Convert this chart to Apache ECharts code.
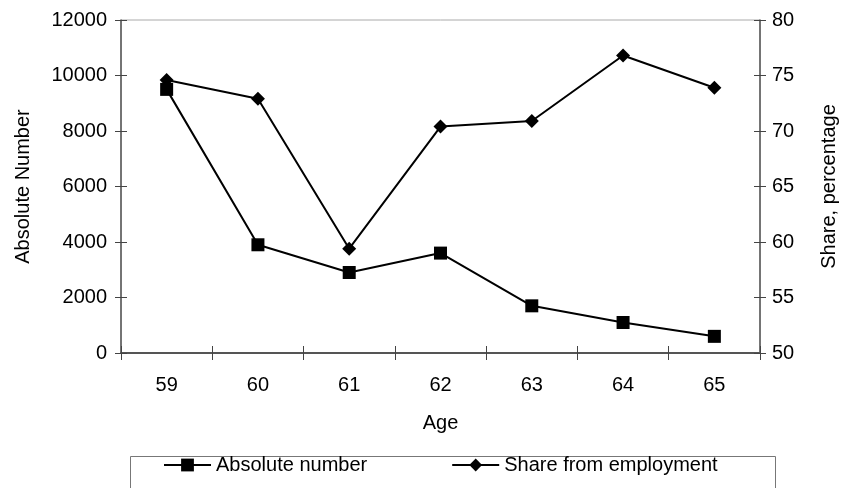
<!DOCTYPE html>
<html>
<head>
<meta charset="utf-8">
<script src="https://cdn.jsdelivr.net/npm/echarts@6/dist/echarts.min.js"></script>
<style>
html,body{margin:0;padding:0;background:#fff;}
#chart{width:847px;height:488px;}
</style>
</head>
<body>
<div id="chart"></div>
<script>
var ages = ['59', '60', '61', '62', '63', '64', '65'];
var absoluteNumber = [9500, 3900, 2900, 3600, 1700, 1100, 600];
var shareFromEmployment = [74.6, 72.9, 59.4, 70.4, 70.9, 76.8, 73.9];
var leftTicks = {min: 0, max: 12000, interval: 2000};
var rightTicks = {min: 50, max: 80, interval: 5};

var FONT = 'Liberation Sans, Arial, sans-serif';
var chart = echarts.init(document.getElementById('chart'), null, {renderer: 'canvas'});

function yAx(pos, t, inside, showLabel) {
  return {
    type: 'value', position: pos, min: t.min, max: t.max, interval: t.interval,
    axisLine: {show: !inside, lineStyle: {color: '#555', width: 1.5}},
    axisTick: {show: true, inside: inside, length: 6, lineStyle: {color: '#444', width: 1}},
    axisLabel: {show: showLabel, color: '#000', fontFamily: FONT, fontSize: 20,
      margin: pos === 'left' ? 14 : 12,
      formatter: function (v) { return String(v); }},
    splitLine: {show: false}
  };
}

var option = {
  animation: false,
  backgroundColor: '#fff',
  grid: {left: 121, right: 76, top: 20, bottom: 135, show: true, borderColor: '#aaa', borderWidth: 1},
  legend: {
    left: 163, top: 455, padding: 0, itemGap: 84, itemWidth: 47, itemHeight: 16,
    textStyle: {color: '#000', fontFamily: FONT, fontSize: 20},
    data: ['Absolute number', 'Share from employment']
  },
  graphic: [{
    type: 'rect', left: 128, top: 454, silent: true,
    shape: {width: 645, height: 60},
    style: {fill: 'none', stroke: '#777', lineWidth: 1}
  }],
  xAxis: [{
    type: 'category', data: ages, position: 'bottom',
    name: 'Age', nameLocation: 'middle', nameGap: 60,
    nameTextStyle: {color: '#000', fontFamily: FONT, fontSize: 20},
    axisLine: {lineStyle: {color: '#555', width: 2}},
    axisTick: {show: true, length: 7, lineStyle: {color: '#444'}},
    axisLabel: {color: '#000', fontFamily: FONT, fontSize: 20, margin: 22},
    splitLine: {show: false}
  }, {
    type: 'category', data: ages, position: 'bottom',
    axisLine: {show: false},
    axisTick: {show: true, inside: true, length: 7, lineStyle: {color: '#444'}},
    axisLabel: {show: false},
    splitLine: {show: false}
  }],
  yAxis: [
    Object.assign(yAx('left', leftTicks, false, true), {
      name: 'Absolute Number', nameLocation: 'middle', nameGap: 88, nameRotate: 90,
      nameTextStyle: {color: '#000', fontFamily: FONT, fontSize: 20}
    }),
    Object.assign(yAx('right', rightTicks, false, true), {
      name: 'Share, percentage', nameLocation: 'middle', nameGap: 59, nameRotate: 90,
      nameTextStyle: {color: '#000', fontFamily: FONT, fontSize: 20}
    }),
    yAx('left', leftTicks, true, false),
    yAx('right', rightTicks, true, false)
  ],
  series: [{
    name: 'Absolute number', type: 'line', xAxisIndex: 0, yAxisIndex: 0,
    data: absoluteNumber, symbol: 'rect', symbolSize: 13, showAllSymbol: true,
    lineStyle: {color: '#000', width: 2}, itemStyle: {color: '#000'}
  }, {
    name: 'Share from employment', type: 'line', xAxisIndex: 0, yAxisIndex: 1,
    data: shareFromEmployment, symbol: 'diamond', symbolSize: 14, showAllSymbol: true,
    lineStyle: {color: '#000', width: 2}, itemStyle: {color: '#000'}
  }]
};
chart.setOption(option);
</script>
</body>
</html>
